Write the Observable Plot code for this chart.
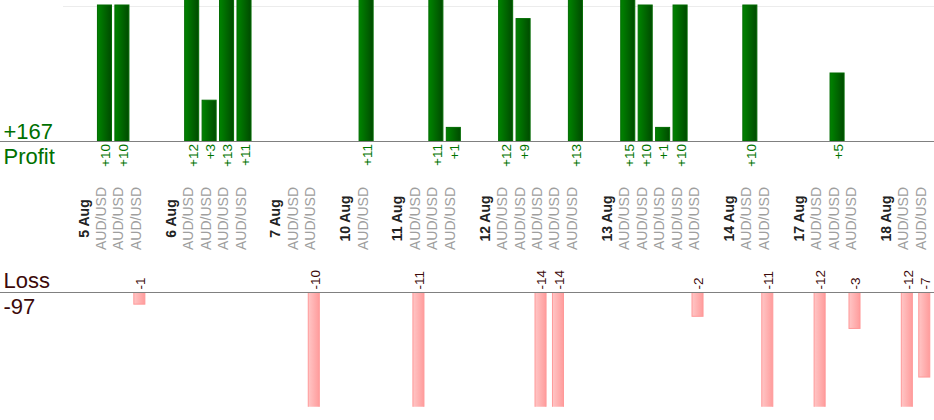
<!DOCTYPE html>
<html>
<head>
<meta charset="utf-8">
<script src="https://cdn.jsdelivr.net/npm/d3@7"></script>
<script src="https://cdn.jsdelivr.net/npm/@observablehq/plot@0.6"></script>
<style>
  html, body { margin: 0; padding: 0; background: #fff; }
  #chart svg { display: block; }
</style>
</head>
<body>
<div id="chart"></div>
<script>
// ---- data ----
const pair = "AUD/USD";
const dayLabels = ["5 Aug", "6 Aug", "7 Aug", "10 Aug", "11 Aug", "12 Aug", "13 Aug", "14 Aug", "17 Aug", "18 Aug"];
const dayTrades = [
  [10, 10, -1],
  [12, 3, 13, 11],
  [0, -10],
  [11],
  [-11, 11, 1],
  [12, 9, -14, -14, 13],
  [15, 10, 1, 10, -2],
  [10, -11],
  [-12, 5, -3],
  [-12, -7]
];

// ---- build slot table (date label, trades, gap) ----
const slots = [];
dayLabels.forEach((day, i) => {
  slots.push({kind: "date", label: day});
  dayTrades[i].forEach(v => slots.push({kind: "trade", label: pair, v}));
  if (i < dayLabels.length - 1) slots.push({kind: "gap", label: ""});
});
slots.forEach((s, i) => s.i = i);
const domain = slots.map(s => s.i);
const trades = slots.filter(s => s.kind === "trade");
const profits = trades.filter(s => s.v > 0);
const losses = trades.filter(s => s.v < 0);
const totalProfit = d3.sum(profits, d => d.v);
const totalLoss = d3.sum(losses, d => d.v);

const W = 934;
const xRange = [78.3, 933];
const font = "'Liberation Sans', Arial, sans-serif";

function gradient(id, c0, c1) {
  return () => {
    const defs = d3.create("svg:defs");
    const g = defs.append("linearGradient").attr("id", id)
      .attr("x1", 0).attr("x2", 1).attr("y1", 0).attr("y2", 0);
    g.append("stop").attr("offset", "0%").attr("stop-color", c0);
    g.append("stop").attr("offset", "100%").attr("stop-color", c1);
    return defs.node();
  };
}

const profitPlot = Plot.plot({
  width: W, height: 260,
  marginTop: 0, marginBottom: 119, marginLeft: 0, marginRight: 0,
  style: {fontFamily: font, background: "#fff"},
  x: {type: "band", domain, range: xRange, padding: 0, round: false, axis: null},
  y: {domain: [0, 10], range: [141, 5], axis: null},
  marks: [
    gradient("gradProfit", "#008400", "#004a00"),
    Plot.ruleY([10], {stroke: "#ececec", insetLeft: 63, dy: 1}),
    Plot.barY(profits, {x: "i", y: "v", fill: "url(#gradProfit)", stroke: "#006a00", strokeWidth: 1, insetLeft: 1.7, insetRight: 1.7, clip: true}),
    Plot.ruleY([0], {stroke: "#808080"}),
    Plot.text(profits, {x: "i", y: () => 0, text: d => "+" + d.v, rotate: -90, textAnchor: "end", dx: 1, dy: 2.5, fontSize: 13.5, fill: "#007400"}),
    Plot.text(slots.filter(s => s.kind === "date"), {x: "i", frameAnchor: "bottom", dx: 1, dy: 77, text: "label", rotate: -90, textAnchor: "middle", fontSize: 14, fontWeight: "bold", fill: "#222"}),
    Plot.text(trades, {x: "i", frameAnchor: "bottom", dx: 1, dy: 77, text: "label", rotate: -90, textAnchor: "middle", fontSize: 14, fill: "#9e9e9e"}),
    Plot.text(["+" + totalProfit], {frameAnchor: "bottom-left", dx: 3, dy: -3, lineAnchor: "bottom", textAnchor: "start", fontSize: 22, fill: "#007000"}),
    Plot.text(["Profit"], {frameAnchor: "bottom-left", dx: 3, dy: 22, lineAnchor: "bottom", textAnchor: "start", fontSize: 22, fill: "#007000"})
  ]
});

const lossPlot = Plot.plot({
  width: W, height: 160,
  marginTop: 32, marginBottom: 13.3, marginLeft: 0, marginRight: 0,
  style: {fontFamily: font, background: "#fff"},
  x: {type: "band", domain, range: xRange, padding: 0, round: false, axis: null},
  y: {domain: [0, -10], range: [32, 153.5], axis: null},
  marks: [
    gradient("gradLoss", "#ffc6c6", "#ff9c9c"),
    Plot.barY(losses, {x: "i", y: "v", fill: "url(#gradLoss)", stroke: "#ff9999", strokeWidth: 1, insetLeft: 3.2, insetRight: 3.2, clip: true}),
    Plot.ruleY([0], {stroke: "#808080"}),
    Plot.text(losses, {x: "i", y: () => 0, text: d => String(d.v), rotate: -90, textAnchor: "start", dx: 1, dy: -3, fontSize: 13.5, fill: "#3c0a0a"}),
    Plot.text(["Loss"], {frameAnchor: "top-left", dx: 3, dy: -5, lineAnchor: "bottom", textAnchor: "start", fontSize: 22, fill: "#3c0a0a"}),
    Plot.text([String(totalLoss)], {frameAnchor: "top-left", dx: 3, dy: 21, lineAnchor: "bottom", textAnchor: "start", fontSize: 22, fill: "#3c0a0a"})
  ]
});

const chart = document.getElementById("chart");
chart.appendChild(profitPlot);
chart.appendChild(lossPlot);
</script>
</body>
</html>
